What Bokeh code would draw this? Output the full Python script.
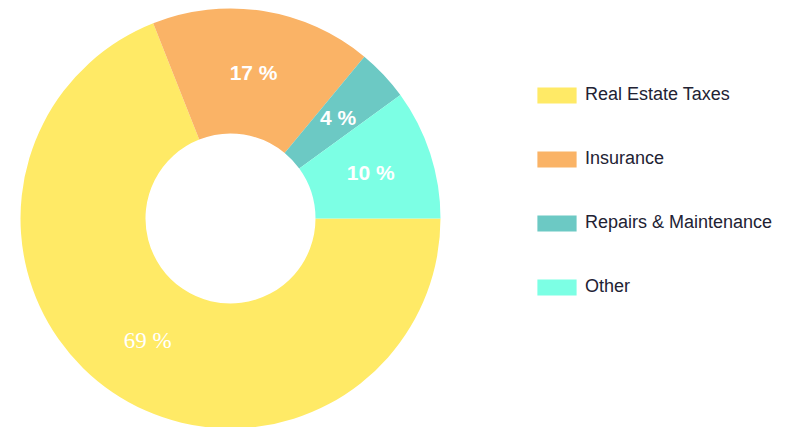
import math
from bokeh.plotting import figure
from bokeh.models import Range1d, ColumnDataSource, Legend, LegendItem
from bokeh.core.properties import value
from bokeh.embed import file_html
from bokeh.resources import INLINE

categories = ["Real Estate Taxes", "Insurance", "Repairs & Maintenance", "Other"]
values = [69, 17, 4, 10]
colors = ["#FFEA66", "#FAB366", "#6CC9C4", "#7CFFE4"]

W, H = 810, 427
cx, cy = 230, H - 218
r_out, r_in = 210, 85

total = sum(values)
# slices go counter-clockwise from 3 o'clock, last category first
starts, ends = {}, {}
acc = 0.0
for i in reversed(range(len(values))):
    a0 = acc
    acc += values[i] / total * 2 * math.pi
    starts[i], ends[i] = a0, acc

p = figure(width=W, height=H, output_backend="svg", toolbar_location=None,
           x_range=Range1d(0, W), y_range=Range1d(0, H), min_border=0)
p.axis.visible = False
p.grid.visible = False
p.outline_line_color = None

items = []
for i, cat in enumerate(categories):
    src = ColumnDataSource(dict(x=[cx], y=[cy], s=[starts[i]], e=[ends[i]]))
    r = p.annular_wedge(x="x", y="y", inner_radius=r_in, outer_radius=r_out,
                        start_angle="s", end_angle="e", fill_color=colors[i],
                        line_color=None, source=src)
    items.append(LegendItem(label=cat, renderers=[r]))

# labels
lx, ly, lt = [], [], []
for i, v in enumerate(values):
    mid = (starts[i] + ends[i]) / 2
    rr = (r_in + r_out) / 2
    lx.append(cx + rr * math.cos(mid))
    ly.append(cy + rr * math.sin(mid))
    lt.append(f"{v} %")

big = [i for i in range(len(values)) if values[i] == max(values)]
small = [i for i in range(len(values)) if i not in big]
p.text(x=[lx[i] for i in small], y=[ly[i] for i in small], text=[lt[i] for i in small],
       text_align="center", text_baseline="middle", text_color="white",
       text_font=value("Liberation Sans"), text_font_style="bold", text_font_size="21px")
p.text(x=[lx[i] for i in big], y=[ly[i] for i in big], text=[lt[i] for i in big],
       text_align="center", text_baseline="middle", text_color="white",
       text_font=value("Liberation Serif"), text_font_size="23px")

legend = Legend(items=items, location=(532, 130), orientation="vertical",
                glyph_width=49, glyph_height=20, label_height=20, spacing=43,
                label_standoff=4, padding=0, margin=0,
                border_line_alpha=0, background_fill_alpha=0,
                label_text_font="Liberation Sans", label_text_font_size="18px",
                label_text_color="#222233")
p.add_layout(legend)

open("out.html", "w").write(file_html(p, INLINE))
